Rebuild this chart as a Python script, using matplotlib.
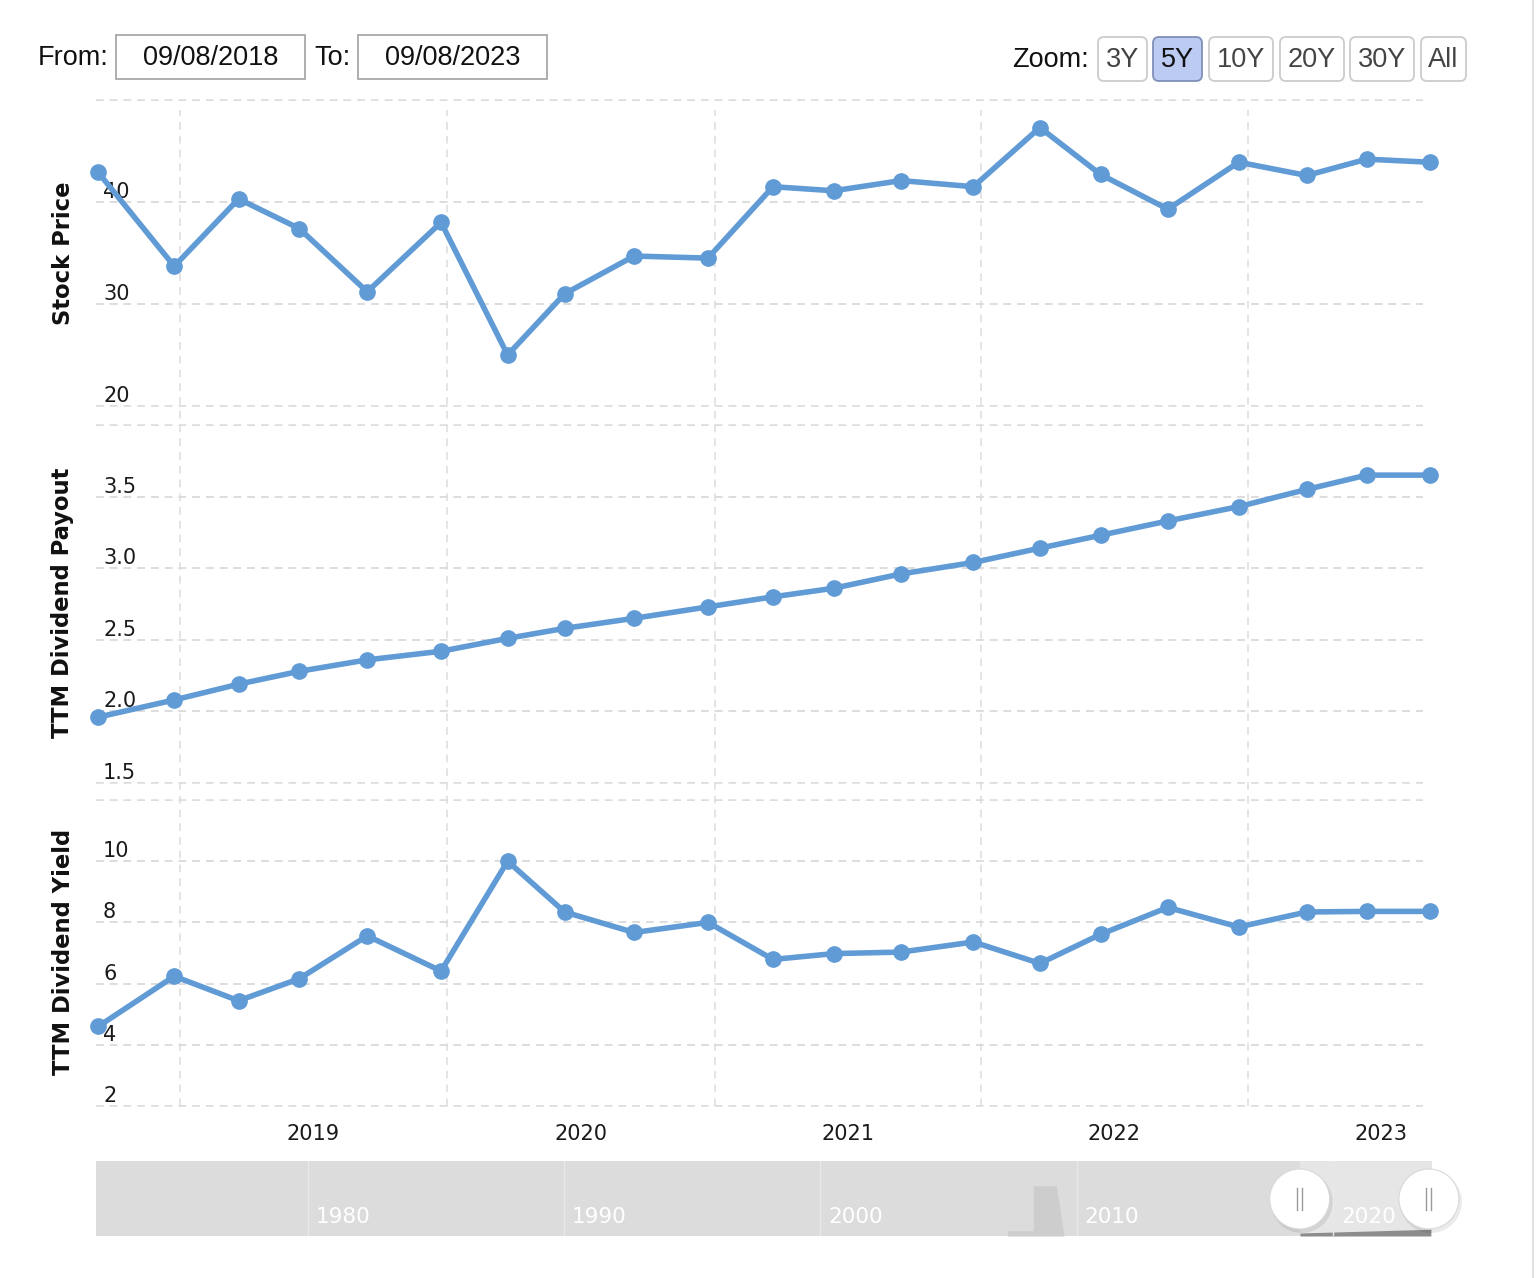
import datetime as dt

import numpy as np
import matplotlib
matplotlib.use("Agg")
import matplotlib.pyplot as plt
import matplotlib.dates as mdates
from matplotlib.patches import Rectangle, FancyBboxPatch, Ellipse
from matplotlib.lines import Line2D
from matplotlib.transforms import blended_transform_factory, offset_copy


W, H = 1536, 1278
DPI = 100

# ---- data ----
dates = ["2018-09-11", "2018-12-24", "2019-03-22", "2019-06-13", "2019-09-14",
         "2019-12-24", "2020-03-24", "2020-06-10", "2020-09-13", "2020-12-23",
         "2021-03-22", "2021-06-13", "2021-09-13", "2021-12-21", "2022-03-22",
         "2022-06-13", "2022-09-13", "2022-12-19", "2023-03-22", "2023-06-12",
         "2023-09-06"]
stock_price = [42.9, 33.7, 40.3, 37.4, 31.2, 38.0, 25.0, 31.0, 34.7, 34.5,
               41.5, 41.1, 42.1, 41.5, 47.3, 42.7, 39.3, 43.9, 42.6, 44.2, 43.9]
ttm_payout = [1.96, 2.08, 2.19, 2.28, 2.36, 2.42, 2.51, 2.58, 2.65, 2.73,
              2.80, 2.86, 2.96, 3.04, 3.14, 3.23, 3.33, 3.43, 3.55, 3.65, 3.65]
ttm_yield = [4.60, 6.24, 5.44, 6.16, 7.56, 6.41, 10.0, 8.34, 7.67, 8.00,
             6.79, 6.98, 7.03, 7.36, 6.66, 7.61, 8.49, 7.85, 8.34, 8.36, 8.36]

panel_titles = ["Stock Price", "TTM Dividend Payout", "TTM Dividend Yield"]
stock_grid = [20, 30, 40, 50]
stock_labels = [20, 30, 40]
payout_grid = [1.5, 2.0, 2.5, 3.0, 3.5, 4.0]
payout_labels = [1.5, 2.0, 2.5, 3.0, 3.5]
yield_grid = [2, 4, 6, 8, 10, 12]
yield_labels = [2, 4, 6, 8, 10]
year_labels = [2019, 2020, 2021, 2022, 2023]
x_start, x_end = "2018-09-08", "2023-08-28"

# navigator strip (whole history, years)
nav_decades = [1980, 1990, 2000, 2010, 2020]
nav_years = [2007.3, 2007.3, 2008.15, 2008.3, 2008.3, 2009.2, 2009.5, 2018.7]
nav_level = [0.0, 0.07, 0.07, 0.07, 0.67, 0.67, 0.0, 0.0]
nav_sel_years = [2018.7, 2023.8]
nav_sel_level = [0.04, 0.09]
nav_range = (1971.75, 2023.85)
sel_range = (2018.69, 2023.73)

from_date, to_date = "09/08/2018", "09/08/2023"
zoom_buttons = ["3Y", "5Y", "10Y", "20Y", "30Y", "All"]
active_button = "5Y"

LINE = "#619bd6"
GRID = "#dcdcdc"
TXT = "#1a1a1a"


def fx(px):
    return px / W


def fy(py):
    return 1 - py / H


def box(x0, y0, x1, y1):
    return [fx(x0), fy(y1), (x1 - x0) / W, (y1 - y0) / H]


xd = [mdates.date2num(dt.date.fromisoformat(d)) for d in dates]
xlim = (mdates.date2num(dt.date.fromisoformat(x_start)),
        mdates.date2num(dt.date.fromisoformat(x_end)))

fig = plt.figure(figsize=(W / DPI, H / DPI), dpi=DPI)
fig.patch.set_facecolor("white")

# vertical year gridlines run through all three panels
bg = fig.add_axes(box(96, 110, 1423, 1106))
bg.set_xlim(xlim)
bg.set_ylim(0, 1)
bg.axis("off")
for y in year_labels:
    bg.axvline(mdates.date2num(dt.date(y, 1, 1)), color=GRID, lw=1.1,
               dashes=(5, 4), zorder=0)

panels = [
    ((100, 406), stock_price, stock_grid, stock_labels, "{:.0f}", (20, 50)),
    ((425, 783), ttm_payout, payout_grid, payout_labels, "{:.1f}", (1.5, 4.0)),
    ((800, 1106), ttm_yield, yield_grid, yield_labels, "{:.0f}", (2, 12)),
]
centers = [253, 603, 952]

axes = []
for (top, bot), vals, grid, labels, fmt, ylim in panels:
    ax = fig.add_axes(box(96, top, 1423, bot))
    ax.set_facecolor("none")
    ax.set_xlim(xlim)
    ax.set_ylim(ylim)
    for s in ax.spines.values():
        s.set_visible(False)
    ax.set_yticks(grid)
    ax.set_yticklabels([])
    ax.yaxis.grid(True, color=GRID, lw=1.1, dashes=(5, 4))
    ax.tick_params(length=0)
    ax.set_xticks([])
    for g in grid:
        ax.axhline(g, color=GRID, lw=1.1, dashes=(5, 4), clip_on=False, zorder=0)
    trans = offset_copy(blended_transform_factory(ax.transAxes, ax.transData),
                        fig=fig, x=0, y=4, units="dots")
    for v in labels:
        ax.text(0.0053, v, fmt.format(v), transform=trans, fontsize=15,
                color=TXT, ha="left", va="baseline", family="DejaVu Sans", zorder=1)
    ax.plot(xd, vals, color=LINE, lw=4.0, marker="o", ms=11,
            clip_on=False, zorder=3, solid_joinstyle="round")
    axes.append(ax)

for title, cy in zip(panel_titles, centers):
    fig.text(fx(63), fy(cy), title, rotation=90, ha="center", va="center",
             fontsize=16.3, fontweight="bold", color="#111111", family="DejaVu Sans")

# year labels sit mid-year under the bottom panel
ax3 = axes[-1]
ax3.set_xticks([mdates.date2num(dt.date(y, 7, 2)) for y in year_labels])
ax3.set_xticklabels([str(y) for y in year_labels], fontsize=15, color=TXT,
                    family="DejaVu Sans")
ax3.tick_params(axis="x", length=0, pad=13)

# navigator
nav = fig.add_axes(box(96, 1161, 1432, 1236))
nav.set_xlim(nav_range)
nav.set_ylim(0, 1)
nav.set_facecolor("#e6e6e6")
for s in nav.spines.values():
    s.set_visible(False)
nav.set_xticks([])
nav.set_yticks([])
nav.axvspan(nav_range[0], sel_range[0], color="#dcdcdc", lw=0, zorder=0)
nav.fill_between(nav_years, 0, nav_level, color="#cdcdcd", lw=0, zorder=1)
nav.fill_between(nav_sel_years, 0, nav_sel_level, color="#8c8c8c", lw=0, zorder=1)
for d in nav_decades:
    nav.axvline(d, color="#e9e9e9", lw=1.0, zorder=1)
    nav.text(d + 0.3, 0.12, str(d), color="white", fontsize=15.5,
             family="DejaVu Sans", ha="left", va="bottom", zorder=2)

# handles
fig.canvas.draw()
for hx in sel_range:
    px, _ = nav.transData.transform((hx, 0))
    cx, cy = px / W, fy(1199)
    fig.patches.append(Ellipse((cx + 2 / W, cy - 3 / H), 62 / W, 62 / H,
                               transform=fig.transFigure, facecolor="#000000",
                               alpha=0.08, lw=0, zorder=5))
    fig.patches.append(Ellipse((cx, cy), 60 / W, 60 / H, transform=fig.transFigure,
                               facecolor="white", edgecolor="#d8d8d8", lw=0.8,
                               zorder=6))
    for off in (-2.5, 2.5):
        fig.lines.append(Line2D([cx + off / W] * 2, [fy(1188), fy(1210)],
                                transform=fig.transFigure, color="#9a9a9a",
                                lw=1.0, zorder=7))

# header controls
HEAD = dict(fontsize=19.5, family="Liberation Sans", va="center", color="#111111")
fig.text(fx(38), fy(58), "From:", ha="left", **HEAD)
fig.text(fx(314), fy(58), "To:", ha="left", **HEAD)
for (x0, x1), label in [((116, 305), from_date), ((358, 547), to_date)]:
    fig.patches.append(Rectangle((fx(x0), fy(79)), (x1 - x0) / W, 44 / H,
                                 transform=fig.transFigure, facecolor="white",
                                 edgecolor="#a8a8a8", lw=1.3))
    fig.text(fx((x0 + x1) / 2), fy(58), label, ha="center", **HEAD)

fig.text(fx(1012), fy(60), "Zoom:", ha="left", **HEAD)
btn_x = [(1098, 1147), (1153, 1202), (1209, 1273), (1280, 1344), (1350, 1414), (1421, 1466)]
for (x0, x1), label in zip(btn_x, zoom_buttons):
    on = label == active_button
    fig.patches.append(FancyBboxPatch(
        (fx(x0), fy(81)), (x1 - x0) / W, 44 / H,
        boxstyle="round,pad=0,rounding_size=%f" % (6 / W),
        mutation_aspect=W / H, transform=fig.transFigure,
        facecolor="#bccbf2" if on else "white",
        edgecolor="#7f8fb8" if on else "#cccccc", lw=1.3))
    fig.text(fx((x0 + x1) / 2), fy(60), label, ha="center", fontsize=19.5,
             family="Liberation Sans", va="center",
             color="#111111" if on else "#444444")

fig.lines.append(Line2D([fx(1533)] * 2, [0, 1], transform=fig.transFigure,
                        color="#e2e2e2", lw=1.5))

fig.savefig("out.png", dpi=DPI, facecolor="white")
